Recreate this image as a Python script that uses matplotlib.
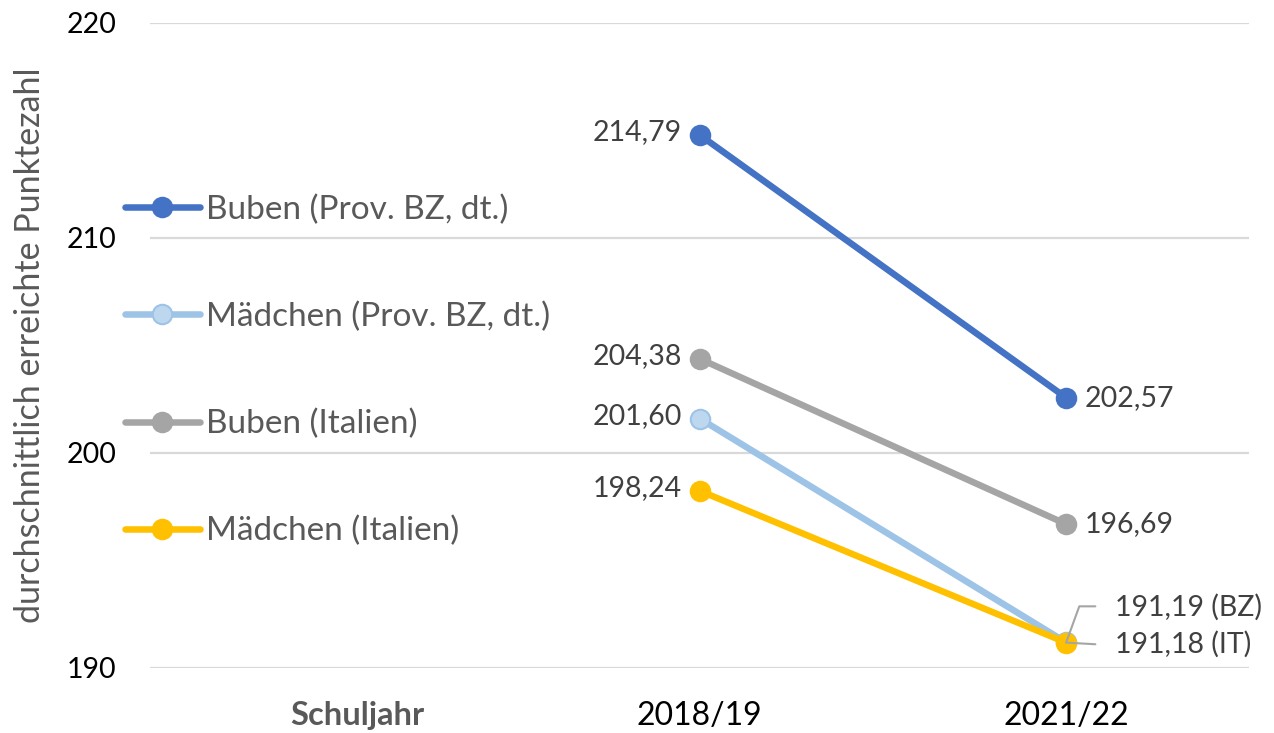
import matplotlib
matplotlib.use('Agg')
import matplotlib.pyplot as plt
import matplotlib.transforms as mtransforms

# categories on the x axis (first one is just the axis caption)
categories = ['Schuljahr', '2018/19', '2021/22']
years = ['2018/19', '2021/22']

series_names = ['Buben (Prov. BZ, dt.)', 'Mädchen (Prov. BZ, dt.)',
                'Buben (Italien)', 'Mädchen (Italien)']
buben_bz = [214.79, 202.57]
maedchen_bz = [201.60, 191.19]
buben_it = [204.38, 196.69]
maedchen_it = [198.24, 191.18]

y_ticks = [190, 200, 210, 220]

line_colors = ['#4472C4', '#9DC3E6', '#A5A5A5', '#FFC000']
face_colors = ['#4472C4', '#BDD7EE', '#A5A5A5', '#FFC000']

plt.rcParams['font.family'] = ['Lato', 'DejaVu Sans']

fig = plt.figure(figsize=(12.74, 7.33), dpi=100)
ax = fig.add_axes([0.1177, 0.0887, 0.863, 0.880])

x_pos = {c: i for i, c in enumerate(categories)}
xs = [x_pos[y] for y in years]

all_series = [buben_bz, maedchen_bz, buben_it, maedchen_it]
for vals, name, lc, fc in zip(all_series, series_names, line_colors, face_colors):
    ax.plot(xs, vals, color=lc, lw=4.7, solid_capstyle='round',
            marker='o', markersize=14, markerfacecolor=fc,
            markeredgecolor=lc, markeredgewidth=1.5, label=name, zorder=3)

def fmt(v):
    return f'{v:.2f}'.replace('.', ',')

label_color = '#404040'
fs = 20.5

# labels left of the first point
for vals in all_series:
    ax.annotate(fmt(vals[0]), (xs[0], vals[0]), xytext=(-13, 2),
                textcoords='offset points', ha='right', va='center',
                fontsize=fs, color=label_color)

# labels right of the last point
for vals in [buben_bz, buben_it]:
    ax.annotate(fmt(vals[1]), (xs[1], vals[1]), xytext=(13, 0),
                textcoords='offset points', ha='left', va='center',
                fontsize=fs, color=label_color)

# the two nearly identical end points get leader lines
ax.annotate(fmt(maedchen_bz[1]) + ' (BZ)', (xs[1], maedchen_bz[1]),
            xytext=(35, 25), textcoords='offset points', ha='left', va='center',
            fontsize=fs, color=label_color,
            arrowprops=dict(arrowstyle='-', color='#A5A5A5', lw=1.5,
                            shrinkA=12, shrinkB=0, relpos=(0, 0.55),
                            connectionstyle='angle,angleA=0,angleB=70,rad=0'))
ax.annotate(fmt(maedchen_it[1]) + ' (IT)', (xs[1], maedchen_it[1]),
            xytext=(35, -1), textcoords='offset points', ha='left', va='center',
            fontsize=fs, color=label_color,
            arrowprops=dict(arrowstyle='-', color='#A5A5A5', lw=1.5,
                            shrinkA=12, shrinkB=0, relpos=(0, 0.45)))

ax.set_xlim(-0.5, len(categories) - 0.5)
ax.set_ylim(190, 220)
ax.set_yticks(y_ticks)
ax.set_xticks(range(len(categories)))
ax.set_xticklabels(categories)
ax.tick_params(axis='both', length=0, colors='black')
ax.tick_params(axis='x', pad=24, labelsize=23)
ax.tick_params(axis='y', pad=24, labelsize=fs)
first = ax.get_xticklabels()[0]
first.set_fontweight('bold')
first.set_fontsize(23.5)
first.set_color('#595959')
# the caption sits a bit right of the category centre
first.set_transform(first.get_transform() +
                    mtransforms.ScaledTranslation(24 / 100, 0, fig.dpi_scale_trans))

ax.grid(axis='y', color='#D9D9D9', lw=1.6)
ax.set_axisbelow(True)
for s in ax.spines.values():
    s.set_visible(False)

ax.set_ylabel('durchschnittlich erreichte Punktezahl', fontsize=24.5,
              color='#595959', labelpad=15)

leg = ax.legend(loc='upper left', bbox_to_anchor=(-0.023, 0.734), frameon=False,
                fontsize=24, handlelength=2.25, handletextpad=0.18,
                labelspacing=2.3, borderpad=0, borderaxespad=0)
for t in leg.get_texts():
    t.set_color('#595959')

fig.savefig('out.png', dpi=100)
